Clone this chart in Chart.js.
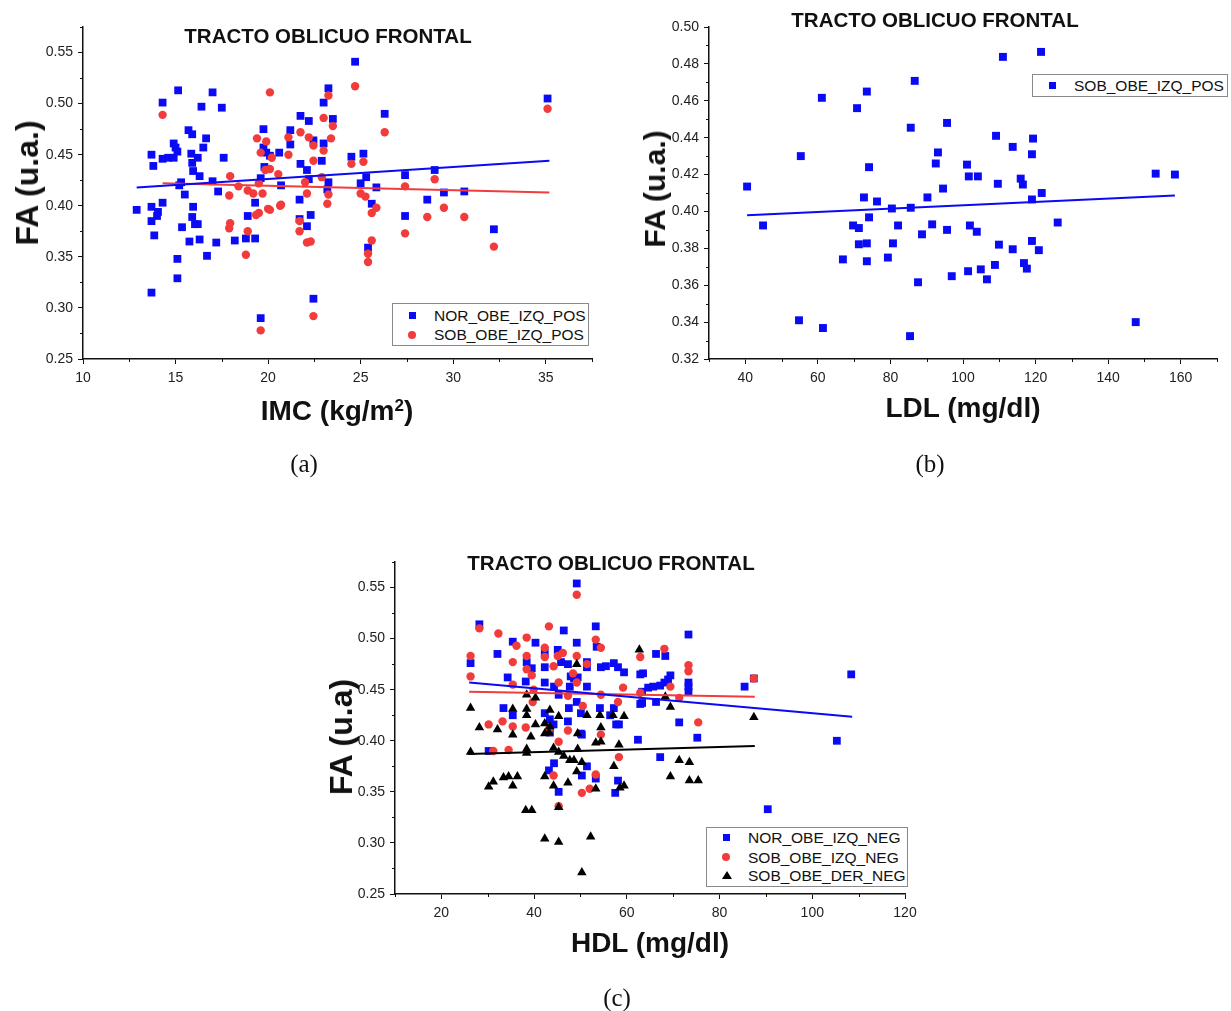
<!DOCTYPE html>
<html>
<head>
<meta charset="utf-8">
<script src="https://cdn.jsdelivr.net/npm/chart.js@4.4.1/dist/chart.umd.min.js"></script>
<style>
html,body{margin:0;padding:0;background:#fff;}
body{width:1231px;height:1011px;position:relative;overflow:hidden;font-family:"Liberation Sans",Arial,sans-serif;}
canvas{position:absolute;}
.t{position:absolute;transform:translate(-50%,-50%);white-space:nowrap;color:#111;font-weight:bold;line-height:1;}
.title{font-size:20.5px;}
.xt{font-size:28px;}
.yt{transform:translate(-50%,-50%) rotate(-90deg);}
.xt sup{font-size:17px;vertical-align:0.55em;line-height:0;}
.cap{position:absolute;transform:translate(-50%,-50%);font-family:"Liberation Serif","Times New Roman",serif;font-size:25px;color:#111;line-height:1;}
.leg{position:absolute;border:1px solid #8a8a8a;background:#fff;}
.row{position:absolute;left:0;font-size:15.5px;color:#111;line-height:1;white-space:nowrap;}
.mk{position:absolute;}
.sq{width:7px;height:7px;background:#0a0af5;}
.ci{width:8px;height:8px;border-radius:50%;background:#f23c3c;}
.tr{width:0;height:0;border-left:5px solid transparent;border-right:5px solid transparent;border-bottom:8px solid #000;}
</style>
</head>
<body>
<canvas id="ca" width="620" height="440" style="left:0;top:0"></canvas>
<canvas id="cb" width="611" height="440" style="left:620px;top:0"></canvas>
<canvas id="cc" width="640" height="440" style="left:300px;top:520px"></canvas>

<div class="t title" style="left:328px;top:36px">TRACTO OBLICUO FRONTAL</div>
<div class="t title" style="left:935px;top:20px">TRACTO OBLICUO FRONTAL</div>
<div class="t title" style="left:611px;top:563px">TRACTO OBLICUO FRONTAL</div>

<div class="t xt" style="left:337px;top:411px">IMC (kg/m<sup>2</sup>)</div>
<div class="t xt" style="left:963px;top:408px">LDL (mg/dl)</div>
<div class="t xt" style="left:650px;top:943px">HDL (mg/dl)</div>

<div class="t yt" style="left:27px;top:183px;font-size:32px">FA (u.a.)</div>
<div class="t yt" style="left:655px;top:189px;font-size:30px">FA (u.a.)</div>
<div class="t yt" style="left:341px;top:737px;font-size:32px">FA (u.a)</div>

<div class="cap" style="left:304px;top:463px">(a)</div>
<div class="cap" style="left:930px;top:463px">(b)</div>
<div class="cap" style="left:617px;top:997px">(c)</div>

<div class="leg" style="left:392px;top:303px;width:195px;height:41px">
  <div class="mk sq" style="left:16px;top:8px"></div>
  <div class="row" style="left:41px;top:4px">NOR_OBE_IZQ_POS</div>
  <div class="mk ci" style="left:15px;top:27px"></div>
  <div class="row" style="left:41px;top:23px">SOB_OBE_IZQ_POS</div>
</div>
<div class="leg" style="left:1032px;top:74px;width:194px;height:21px">
  <div class="mk sq" style="left:16px;top:7px"></div>
  <div class="row" style="left:41px;top:3px">SOB_OBE_IZQ_POS</div>
</div>
<div class="leg" style="left:706px;top:827px;width:200px;height:58px">
  <div class="mk sq" style="left:16px;top:6px"></div>
  <div class="row" style="left:41px;top:2px">NOR_OBE_IZQ_NEG</div>
  <div class="mk ci" style="left:15px;top:25px"></div>
  <div class="row" style="left:41px;top:22px">SOB_OBE_IZQ_NEG</div>
  <div class="mk tr" style="left:15px;top:43px"></div>
  <div class="row" style="left:41px;top:40px">SOB_OBE_DER_NEG</div>
</div>

<script>
// ---------- (a) IMC vs FA ----------
const aNorIMC = [15.14,14.3,17.0,16.4,17.5,15.7,15.9,16.65,16.5,14.9,15.0,15.1,13.7,13.8,14.3,14.6,14.9,15.85,16.2,15.9,15.95,16.3,17.6,17.0,15.3,15.2,15.5,17.3,12.9,13.7,14.3,14.05,14.0,13.7,13.85,15.35,15.95,15.9,16.05,16.2,15.75,16.3,16.7,17.2,15.1,15.1,13.7,18.2,18.9,18.8,19.3,19.3,19.6,19.75,19.75,19.9,20.1,20.6,21.2,21.2,21.75,22.2,21.75,22.1,19.8,19.6,20.7,21.7,21.7,22.1,22.3,22.45,24.7,23.26,23.0,23.5,26.3,35.1,22.45,23.0,22.9,24.5,25.15,25.3,25.0,23.26,23.2,22.2,27.4,29.0,25.85,29.5,30.6,28.6,25.6,27.4,32.2,25.4];
const aNorFA  = [0.513,0.501,0.511,0.497,0.496,0.474,0.470,0.466,0.457,0.461,0.457,0.453,0.450,0.439,0.446,0.447,0.447,0.451,0.447,0.442,0.434,0.429,0.447,0.424,0.423,0.420,0.411,0.414,0.396,0.399,0.403,0.394,0.390,0.385,0.371,0.379,0.399,0.389,0.382,0.382,0.365,0.367,0.351,0.364,0.348,0.329,0.315,0.366,0.390,0.368,0.368,0.403,0.290,0.475,0.457,0.452,0.449,0.452,0.474,0.460,0.488,0.483,0.441,0.435,0.438,0.427,0.420,0.406,0.387,0.380,0.391,0.309,0.541,0.515,0.501,0.485,0.490,0.505,0.464,0.461,0.444,0.448,0.451,0.428,0.422,0.423,0.416,0.426,0.430,0.435,0.418,0.413,0.414,0.406,0.402,0.390,0.377,0.359];
const aSobIMC = [20.1,14.3,17.95,17.9,18.4,18.9,19.2,19.4,19.9,19.6,20.2,19.85,20.1,20.55,19.5,19.7,20.1,20.7,21.1,21.75,22.2,22.45,22.45,21.1,22.0,22.1,17.95,17.9,18.9,18.8,19.35,19.5,20.0,20.65,21.7,21.7,22.1,22.3,19.6,22.45,24.7,23.26,23.0,23.5,26.3,35.1,23.4,23.0,24.5,25.15,22.9,23.26,23.2,25.0,25.26,27.4,29.0,29.5,30.6,28.6,25.85,25.6,27.4,25.6,25.4,25.4,32.2];
const aSobFA  = [0.511,0.489,0.429,0.410,0.419,0.415,0.412,0.466,0.463,0.452,0.447,0.435,0.436,0.431,0.422,0.412,0.396,0.401,0.467,0.472,0.467,0.459,0.444,0.450,0.423,0.412,0.383,0.378,0.375,0.352,0.391,0.393,0.397,0.400,0.385,0.375,0.364,0.365,0.278,0.292,0.517,0.508,0.486,0.478,0.472,0.495,0.466,0.454,0.441,0.443,0.428,0.411,0.402,0.412,0.409,0.419,0.426,0.398,0.389,0.389,0.398,0.393,0.373,0.366,0.353,0.345,0.360];
const aNorFitX = [12.9, 35.2], aNorFitY = [0.418, 0.444];
const aSobFitX = [14.3, 35.2], aSobFitY = [0.422, 0.413];
const aXTicks = [10,15,20,25,30,35];
const aXMinor = [12.5,17.5,22.5,27.5,32.5,37.5];
const faTicks = [0.25,0.30,0.35,0.40,0.45,0.50,0.55];
const faMinor = [0.275,0.325,0.375,0.425,0.475,0.525,0.575];

// ---------- (b) LDL vs FA ----------
const bLDL = [40.5,55.3,61.1,70.8,73.5,74.1,72.7,76.3,80.4,85.6,86.7,85.6,90.2,74.1,44.9,54.8,61.4,66.9,69.7,71.3,71.3,73.5,73.5,79.3,80.7,82.1,87.6,88.7,85.4,91.5,95.6,101.9,103.8,109.9,113.7,119.0,120.9,126.1,96.9,101.4,104.9,106.6,108.8,116.8,117.6,147.6,111.0,121.5,95.6,109.1,113.7,119.3,119.0,93.1,92.5,101.1,101.6,104.1,94.5,109.6,115.9,116.5,121.7,119.0,153.1,158.4];
const bFA  = [0.4135,0.430,0.4616,0.456,0.465,0.424,0.4076,0.4054,0.4016,0.402,0.4708,0.4454,0.4076,0.3968,0.3924,0.341,0.3368,0.374,0.3924,0.391,0.3822,0.3827,0.373,0.375,0.3827,0.3924,0.3616,0.3876,0.3324,0.393,0.390,0.3924,0.389,0.382,0.3795,0.384,0.379,0.394,0.3649,0.3676,0.3686,0.3632,0.371,0.372,0.369,0.340,0.4838,0.4865,0.448,0.441,0.435,0.4395,0.431,0.432,0.426,0.4254,0.419,0.419,0.4124,0.415,0.4178,0.4146,0.410,0.4065,0.4205,0.420];
const bFitX = [40.5, 158.4], bFitY = [0.398, 0.4087];
const bXTicks = [40,60,80,100,120,140,160];
const bXMinor = [30,50,70,90,110,130,150,170];
const bYTicks = [0.32,0.34,0.36,0.38,0.40,0.42,0.44,0.46,0.48,0.50];
const bYMinor = [0.33,0.35,0.37,0.39,0.41,0.43,0.45,0.47,0.49];

// ---------- (c) HDL vs FA ----------
const cNorHDL = [49.2,28.2,32.1,35.4,40.3,46.4,49.2,53.3,53.5,26.3,38.4,42.3,45.1,45.8,47.3,39.5,42.3,51.4,51.4,54.4,55.5,57.2,58.1,59.4,34.3,38.2,42.3,44.3,45.3,47.9,48.6,49.4,51.4,47.7,49.2,33.4,35.4,42.3,43.4,47.5,47.3,50.1,54.2,57.2,56.4,57.7,58.3,44.2,43.4,50.1,62.4,62.9,62.9,73.3,66.3,68.3,63.5,69.4,68.9,64.6,65.7,67.2,68.1,73.3,73.3,73.3,63.3,63.3,66.3,85.4,87.4,108.4,71.3,75.2,30.2,44.3,43.2,45.3,50.3,51.4,50.3,53.3,57.5,58.1,67.2,105.3,90.4];
const cNorFA  = [0.554,0.514,0.485,0.497,0.496,0.508,0.496,0.512,0.492,0.476,0.477,0.486,0.489,0.477,0.475,0.471,0.472,0.477,0.472,0.472,0.473,0.476,0.472,0.467,0.462,0.458,0.457,0.453,0.445,0.463,0.461,0.462,0.453,0.453,0.438,0.432,0.425,0.427,0.421,0.432,0.419,0.427,0.432,0.432,0.425,0.416,0.416,0.416,0.408,0.407,0.401,0.465,0.436,0.504,0.485,0.483,0.466,0.464,0.460,0.452,0.453,0.454,0.457,0.457,0.453,0.448,0.448,0.437,0.438,0.453,0.461,0.465,0.418,0.403,0.390,0.378,0.371,0.350,0.406,0.375,0.366,0.363,0.349,0.361,0.384,0.400,0.333];
const cSobHDL = [49.2,28.2,32.3,43.2,38.4,36.2,42.3,42.3,45.1,46.2,49.2,53.3,54.4,26.3,26.3,35.4,38.4,38.4,39.5,44.2,48.4,51.4,49.2,45.3,35.4,39.9,39.7,47.3,50.5,54.4,59.2,58.1,30.2,33.2,35.4,38.2,43.2,47.3,62.9,62.9,68.1,73.3,73.3,69.4,87.4,71.3,75.4,31.2,34.5,45.3,44.2,50.3,52.0,53.3,54.4,58.3,45.3];
const cSobFA  = [0.543,0.510,0.505,0.512,0.501,0.493,0.491,0.482,0.483,0.486,0.483,0.499,0.491,0.483,0.463,0.477,0.483,0.470,0.464,0.473,0.466,0.475,0.457,0.457,0.455,0.450,0.438,0.444,0.434,0.445,0.452,0.438,0.416,0.419,0.414,0.413,0.411,0.410,0.482,0.447,0.490,0.474,0.468,0.453,0.461,0.442,0.418,0.390,0.391,0.399,0.366,0.349,0.353,0.367,0.406,0.384,0.336];
const cDerHDL = [49.2,26.3,35.4,38.4,38.4,38.4,40.3,43.4,51.4,54.2,57.0,59.4,45.3,28.2,32.1,40.3,42.3,43.4,54.4,62.7,69.4,68.3,87.4,35.4,39.3,42.3,43.2,26.3,38.4,38.4,44.2,45.3,46.4,47.7,48.6,49.4,49.4,50.3,53.3,54.4,58.3,57.2,49.2,42.3,44.2,47.3,53.3,59.4,58.5,30.2,31.2,33.4,34.5,36.4,35.4,38.2,39.5,45.3,42.3,45.3,52.2,50.3,71.3,73.5,69.4,73.5,75.4];
const cDerFA  = [0.475,0.432,0.431,0.431,0.425,0.445,0.442,0.430,0.425,0.425,0.425,0.424,0.424,0.413,0.411,0.416,0.417,0.414,0.413,0.489,0.433,0.443,0.423,0.406,0.404,0.407,0.408,0.389,0.392,0.388,0.393,0.389,0.385,0.381,0.381,0.392,0.407,0.379,0.398,0.399,0.396,0.375,0.370,0.365,0.356,0.359,0.353,0.356,0.354,0.355,0.360,0.364,0.365,0.365,0.356,0.332,0.332,0.335,0.304,0.301,0.306,0.271,0.381,0.379,0.365,0.361,0.361];
const cNorFitX = [26.0, 108.6], cNorFitY = [0.457, 0.4235];
const cSobFitX = [26.0, 87.6],  cSobFitY = [0.448, 0.443];
const cDerFitX = [25.8, 87.6],  cDerFitY = [0.387, 0.395];
const cXTicks = [20,40,60,80,100,120];
const cXMinor = [10,30,50,70,90,110];

const BLUE = '#0a0af5', RED = '#f23c3c', BLACK = '#000000';
const pts = (xs, ys) => xs.map((x, i) => ({x: x, y: ys[i]}));

// short outward minor tick marks on both axes
const minorTicks = {
  id: 'minorTicks',
  afterDraw(chart, args, opts) {
    const ctx = chart.ctx, xs = chart.scales.x, ys = chart.scales.y;
    ctx.save();
    ctx.strokeStyle = '#111';
    ctx.lineWidth = 1;
    ctx.beginPath();
    (opts.x || []).forEach(v => {
      const p = Math.round(xs.getPixelForValue(v)) + 0.5;
      ctx.moveTo(p, xs.top); ctx.lineTo(p, xs.top + 3);
    });
    (opts.y || []).forEach(v => {
      const p = Math.round(ys.getPixelForValue(v)) + 0.5;
      ctx.moveTo(ys.right, p); ctx.lineTo(ys.right - 3, p);
    });
    ctx.stroke();
    ctx.restore();
  }
};

function axis(min, max, ticks, fmt, fixed, isX) {
  return {
    type: 'linear', min: min, max: max,
    afterBuildTicks: s => { s.ticks = ticks.map(v => ({value: v})); },
    afterFit: s => { if (isX) s.height = fixed; else s.width = fixed; },
    ticks: {
      callback: v => fmt(v),
      font: {family: 'Liberation Sans', size: 14},
      color: '#222', padding: isX ? 6 : 5,
      maxRotation: 0, autoSkip: false
    },
    grid: {drawOnChartArea: false, drawTicks: true, tickLength: 5, color: '#111', lineWidth: 1},
    border: {display: true, color: '#111', width: 1.5}
  };
}
const f2 = v => v.toFixed(2);
const f0 = v => String(v);

function fitLine(xs, ys, color) {
  return {data: pts(xs, ys), showLine: true, borderColor: color, borderWidth: 2,
          pointRadius: 0, fill: false, order: 0};
}
function points(xs, ys, style, color, r, order) {
  return {data: pts(xs, ys), pointStyle: style, pointRadius: r, pointHoverRadius: r,
          backgroundColor: color, borderColor: color, borderWidth: 0, order: order};
}

function draw(id, datasets, xAx, yAx, pad, minor) {
  new Chart(document.getElementById(id), {
    type: 'scatter',
    data: {datasets: datasets},
    options: {
      responsive: false, animation: false, devicePixelRatio: 1,
      layout: {padding: pad},
      plugins: {legend: {display: false}, tooltip: {enabled: false}, title: {display: false},
                minorTicks: minor},
      scales: {x: xAx, y: yAx}
    },
    plugins: [minorTicks]
  });
}

draw('ca', [
    fitLine(aNorFitX, aNorFitY, BLUE),
    fitLine(aSobFitX, aSobFitY, RED),
    points(aSobIMC, aSobFA, 'circle', RED, 4.2, 2),
    points(aNorIMC, aNorFA, 'rect', BLUE, 5.5, 3)
  ],
  axis(10, 37.5, aXTicks, f0, 81, true),
  axis(0.25, 0.575, faTicks, f2, 83, false),
  {left: 0, top: 27, right: 28, bottom: 0},
  {x: aXMinor, y: faMinor});

draw('cb', [
    fitLine(bFitX, bFitY, BLUE),
    points(bLDL, bFA, 'rect', BLUE, 5.6, 2)
  ],
  axis(30, 170, bXTicks, f0, 81, true),
  axis(0.32, 0.50, bYTicks, f2, 89, false),
  {left: 0, top: 27, right: 14, bottom: 0},
  {x: bXMinor, y: bYMinor});

draw('cc', [
    fitLine(cNorFitX, cNorFitY, BLUE),
    fitLine(cSobFitX, cSobFitY, RED),
    fitLine(cDerFitX, cDerFitY, BLACK),
    points(cDerHDL, cDerFA, 'triangle', BLACK, 5.5, 1),
    points(cSobHDL, cSobFA, 'circle', RED, 4.2, 2),
    points(cNorHDL, cNorFA, 'rect', BLUE, 5.5, 3)
  ],
  axis(10, 120, cXTicks, f0, 66, true),
  axis(0.25, 0.575, faTicks, f2, 95, false),
  {left: 0, top: 42, right: 35, bottom: 0},
  {x: cXMinor, y: faMinor});
</script>
</body>
</html>
